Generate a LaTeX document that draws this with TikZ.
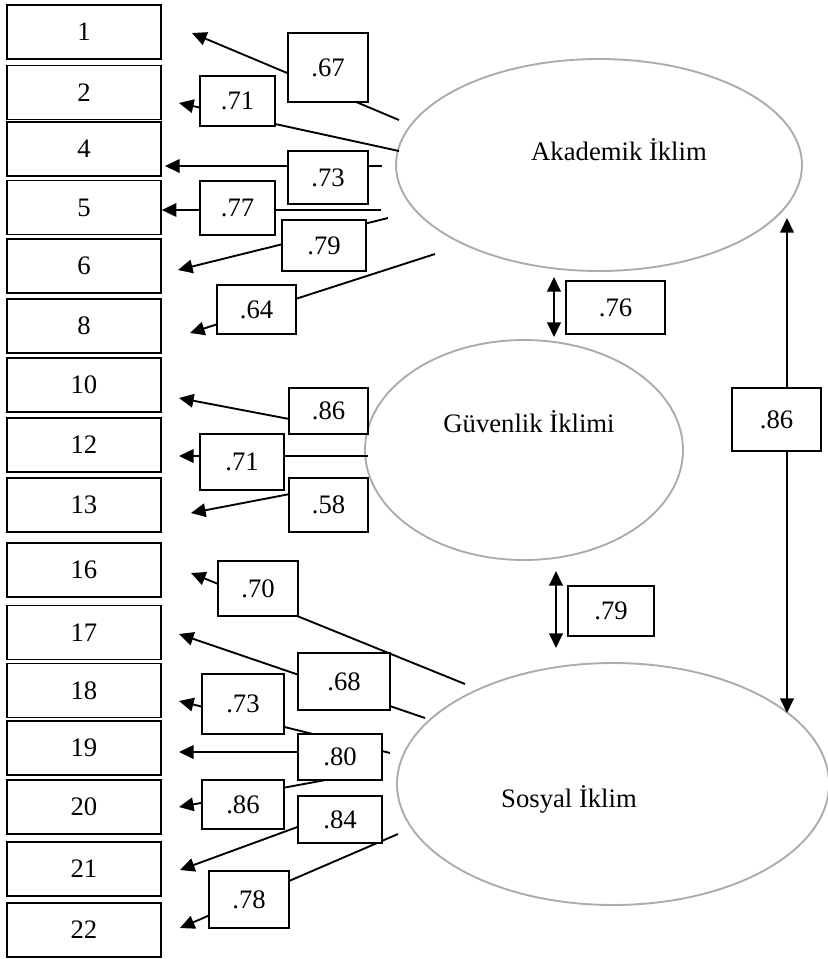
\documentclass[tikz,border=0pt]{standalone}
\usepackage{fontspec}
\setmainfont{Liberation Serif}
\usetikzlibrary{arrows.meta,shapes.geometric}
\newcommand{\pu}{0.48pt}
\tikzset{
  ind/.style={draw, line width=0.8pt, minimum width=154*\pu, minimum height=54*\pu, inner sep=0pt},
  lat/.style 2 args={draw=black!33, line width=0.9pt, ellipse, minimum width=#1*\pu, minimum height=#2*\pu, inner sep=0pt},
  lab/.style 2 args={draw, fill=white, line width=0.8pt, minimum width=#1*\pu, minimum height=#2*\pu, inner sep=0pt},
  load/.style={line width=0.9pt, ->},
  corr/.style={line width=1pt, <->}
}
\begin{document}
\begin{tikzpicture}[x=\pu, y=-\pu, font=\fontsize{12.8pt}{15pt}\selectfont,
    >={Triangle[length=7pt,width=6.5pt]}]
    \useasboundingbox (0,0) rectangle (828,959);
    %% Items
    \node[ind] (i1) at (84,32) {1};
    \node[ind] (i2) at (84,92.5) {2};
    \node[ind] (i4) at (84,149) {4};
    \node[ind] (i5) at (84,207.5) {5};
    \node[ind] (i6) at (84,266) {6};
    \node[ind] (i8) at (84,326) {8};
    \node[ind] (i10) at (84,385) {10};
    \node[ind] (i12) at (84,445) {12};
    \node[ind] (i13) at (84,505) {13};
    \node[ind] (i16) at (84,570) {16};
    \node[ind] (i17) at (84,632.5) {17};
    \node[ind] (i18) at (84,690.5) {18};
    \node[ind] (i19) at (84,748) {19};
    \node[ind] (i20) at (84,807) {20};
    \node[ind] (i21) at (84,869) {21};
    \node[ind] (i22) at (84,930) {22};
    %% Factors
    \node[lat={406}{212}] (akad) at (599,165) {};
    \node[lat={318}{220}] (guven) at (524,450) {};
    \node[lat={432}{242}] (sosyal) at (613,784) {};
    \node[anchor=base] (akadtxt) at (619,160) {Akademik İklim};
    \node[anchor=base] (guventxt) at (529,432) {Güvenlik İklimi};
    \node[anchor=base] (sosyaltxt) at (569,807) {Sosyal İklim};
    %% Loading ends
    \coordinate (a1) at (399,120);  \coordinate (t1) at (192,33);
    \coordinate (a2) at (399,151);  \coordinate (t2) at (179,103);
    \coordinate (a4) at (382,166);  \coordinate (t4) at (165,166);
    \coordinate (a5) at (381,210);  \coordinate (t5) at (i5.east |- 0,210);
    \coordinate (a6) at (388,218);  \coordinate (t6) at (178,270);
    \coordinate (a8) at (435,254);  \coordinate (t8) at (190,333);
    \coordinate (g10) at (368,434); \coordinate (t10) at (179,398);
    \coordinate (g12) at (368,456); \coordinate (t12) at (179,456);
    \coordinate (g13) at (368,479); \coordinate (t13) at (191,513);
    \coordinate (s16) at (465,684); \coordinate (t16) at (191,573);
    \coordinate (s17) at (425,718); \coordinate (t17) at (179,634);
    \coordinate (s18) at (390,753); \coordinate (t18) at (179,701);
    \coordinate (s19) at (380,752); \coordinate (t19) at (179,752);
    \coordinate (s20) at (380,770); \coordinate (t20) at (179,807);
    \coordinate (s21) at (382,796); \coordinate (t21) at (180,870);
    \coordinate (s22) at (398,834); \coordinate (t22) at (180,928);
    %% Loadings
    \draw[load] (a1) -- (t1);
    \draw[load] (a2) -- (t2);
    \draw[load] (a4) -- (t4);
    \draw[load] (a5) -- (t5);
    \draw[load] (a6) -- (t6);
    \draw[load] (a8) -- (t8);
    \draw[load] (g10) -- (t10);
    \draw[load] (g12) -- (t12);
    \draw[load] (g13) -- (t13);
    \draw[load] (s16) -- (t16);
    \draw[load] (s17) -- (t17);
    \draw[load] (s18) -- (t18);
    \draw[load] (s19) -- (t19);
    \draw[load] (s20) -- (t20);
    \draw[load] (s21) -- (t21);
    \draw[load] (s22) -- (t22);
    \node[lab={80}{69}] (l1) at (328,67.5) {.67};
    \node[lab={75}{50}] (l2) at (237.5,101) {.71};
    \node[lab={80}{53}] (l4) at (328,177.5) {.73};
    \node[lab={75}{54}] (l5) at (237.5,208) {.77};
    \node[lab={84}{51}] (l6) at (324,245.5) {.79};
    \node[lab={79}{49}] (l8) at (256.5,309.5) {.64};
    \node[lab={79}{46}] (l10) at (328.5,411) {.86};
    \node[lab={84}{56}] (l12) at (242,462) {.71};
    \node[lab={79}{54}] (l13) at (328.5,505) {.58};
    \node[lab={80}{55}] (l16) at (258,588.5) {.70};
    \node[lab={92}{57}] (l17) at (344,681.5) {.68};
    \node[lab={82}{60}] (l18) at (243,704) {.73};
    \node[lab={84}{46}] (l19) at (340,757) {.80};
    \node[lab={82}{49}] (l20) at (243,804.5) {.86};
    \node[lab={84}{47}] (l21) at (340,819.5) {.84};
    \node[lab={80}{57}] (l22) at (249,899.5) {.78};
    %% Correlations
    \coordinate (c1a) at (554,277); \coordinate (c1b) at (554,337);
    \coordinate (c2a) at (556,571); \coordinate (c2b) at (556,648);
    \coordinate (c3a) at (787,218); \coordinate (c3b) at (787,713);
    \draw[corr] (c1a) -- (c1b);
    \draw[corr] (c2a) -- (c2b);
    \draw[corr] (c3a) -- (c3b);
    \node[lab={99}{53}] (r1) at (615.5,307.5) {.76};
    \node[lab={86}{50}] (r2) at (611,611) {.79};
    \node[lab={89}{63}] (r3) at (776.5,419.5) {.86};
\end{tikzpicture}
\end{document}
